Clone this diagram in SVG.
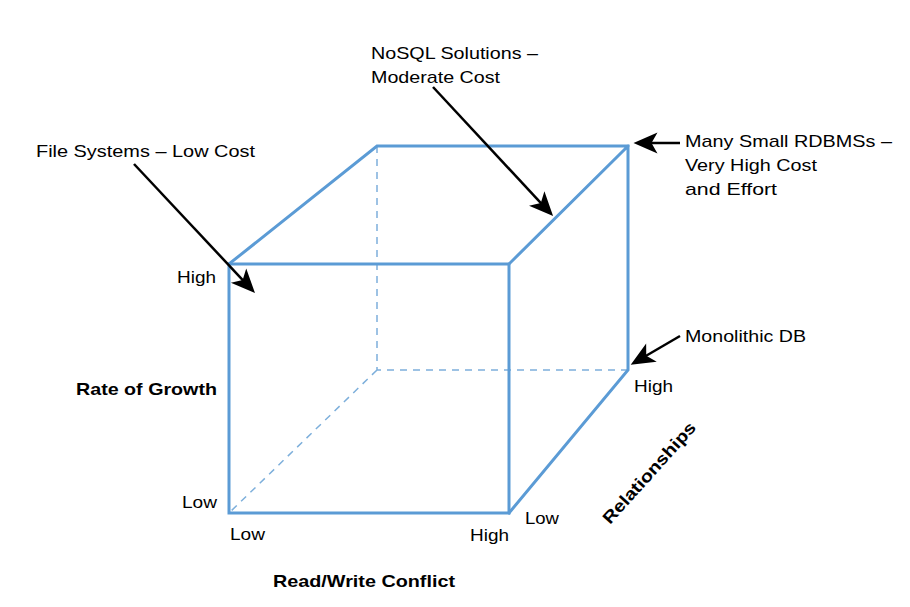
<svg xmlns="http://www.w3.org/2000/svg" width="910" height="607" viewBox="0 0 910 607">
<style>
.e{fill:none;stroke:#5B9BD5;stroke-width:3;stroke-linejoin:miter;stroke-linecap:square}
.d{fill:none;stroke:#7DAFDB;stroke-width:1.5;stroke-dasharray:7 6}
.a{fill:none;stroke:#000;stroke-width:2.5;marker-end:url(#ah)}
text{font-family:"Liberation Sans",Arial,Helvetica,sans-serif;font-size:17px;fill:#000}
.b{font-weight:bold}
</style>
<defs>
<marker id="ah" markerUnits="userSpaceOnUse" markerWidth="30" markerHeight="30" viewBox="-16 -8 20 16" refX="0" refY="0" orient="auto" overflow="visible">
<path d="M3,0 L-13,-7 L-9,0 L-13,7 Z" fill="#000"/>
</marker>
</defs>
<g id="cube">
<path class="d" d="M377,146 L377,370 L628,370 M377,370 L229,513"/>
<path class="e" d="M229,264 L509,264 L509,513 L229,513 Z"/>
<path class="e" d="M229,264 L377,146 L628,146 L628,370 L509,513 M509,264 L628,146"/>
</g>
<g id="connectors">
<line class="a" x1="134" y1="164" x2="251.9" y2="289.8"/>
<line class="a" x1="433" y1="87" x2="550" y2="212.8"/>
<line class="a" x1="680" y1="143" x2="638" y2="143"/>
<line class="a" x1="680" y1="336" x2="634.6" y2="362.5"/>
</g>
<g id="label-filesystems"><text x="36" y="157" textLength="219" lengthAdjust="spacingAndGlyphs">File Systems – Low Cost</text></g>
<g id="label-nosql">
<text x="371" y="59" textLength="167" lengthAdjust="spacingAndGlyphs">NoSQL Solutions –</text>
<text x="371" y="83" textLength="129" lengthAdjust="spacingAndGlyphs">Moderate Cost</text>
</g>
<g id="label-rdbms">
<text x="685" y="147" textLength="207" lengthAdjust="spacingAndGlyphs">Many Small RDBMSs –</text>
<text x="685" y="171" textLength="132" lengthAdjust="spacingAndGlyphs">Very High Cost</text>
<text x="685" y="195" textLength="92" lengthAdjust="spacingAndGlyphs">and Effort</text>
</g>
<g id="label-monolithic"><text x="685" y="342" textLength="121" lengthAdjust="spacingAndGlyphs">Monolithic DB</text></g>
<g id="axis-labels">
<text x="177" y="283" textLength="39" lengthAdjust="spacingAndGlyphs">High</text>
<text x="182" y="508" textLength="35" lengthAdjust="spacingAndGlyphs">Low</text>
<text x="230" y="540" textLength="35" lengthAdjust="spacingAndGlyphs">Low</text>
<text x="470" y="541" textLength="39" lengthAdjust="spacingAndGlyphs">High</text>
<text x="525" y="524" textLength="34" lengthAdjust="spacingAndGlyphs">Low</text>
<text x="634" y="392" textLength="39" lengthAdjust="spacingAndGlyphs">High</text>
<text class="b" x="76" y="395" textLength="141" lengthAdjust="spacingAndGlyphs">Rate of Growth</text>
<text class="b" x="273" y="587" textLength="182" lengthAdjust="spacingAndGlyphs">Read/Write Conflict</text>
<text class="b" transform="translate(610,525) rotate(-48)" x="0" y="0" textLength="130" lengthAdjust="spacingAndGlyphs">Relationships</text>
</g>
</svg>
